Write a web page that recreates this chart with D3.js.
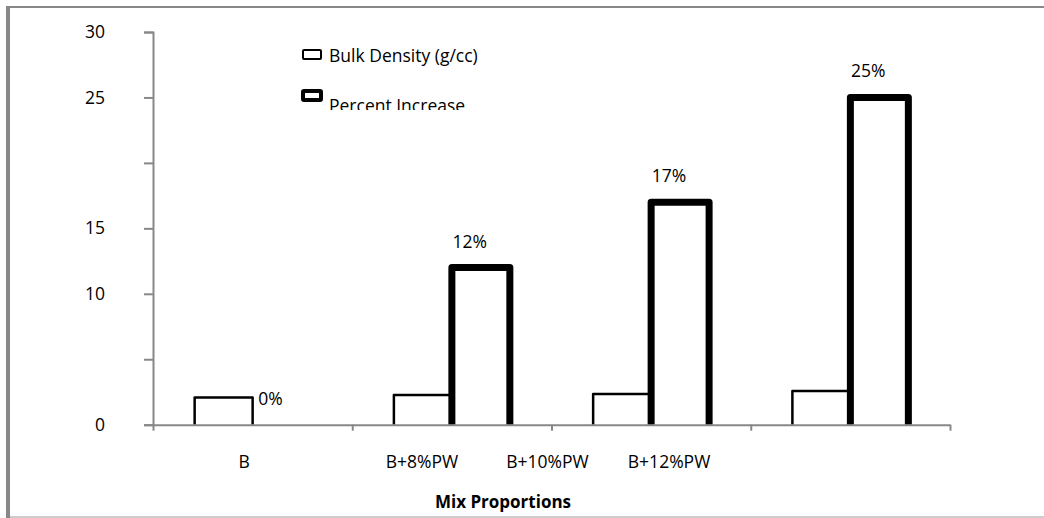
<!DOCTYPE html>
<html>
<head>
<meta charset="utf-8">
<script src="https://cdn.jsdelivr.net/npm/d3@7"></script>
<style>
  body { margin: 0; background: #fff; }
  text { font-family: "Open Sans", "Noto Sans", sans-serif; fill: #000; }
</style>
</head>
<body>
<div id="chart"></div>
<script>
// data
const categories = ["B", "B+8%PW", "B+10%PW", "B+12%PW"];
const bulkDensity = [2.07, 2.27, 2.35, 2.58];
const percentIncrease = [0, 12, 17, 25];
const percentLabels = ["0%", "12%", "17%", "25%"];
const xTickLabels = ["B", "B+8%PW", "B+10%PW", "B+12%PW"];
const yTicks = [0, 5, 10, 15, 20, 25, 30];
const yTickLabels = ["0", "", "10", "15", "", "25", "30"];
const seriesNames = ["Bulk Density (g/cc)", "Percent Increase"];

const W = 1044, H = 518;
const margin = { top: 32, right: 94, bottom: 93.3, left: 153 };
const fs = 17.5;

const svg = d3.select("#chart").append("svg")
    .attr("width", W)
    .attr("height", H);

// outer frame (partly cut off in the original)
svg.append("line").attr("x1", 8).attr("x2", 8).attr("y1", 6).attr("y2", H)
    .attr("stroke", "#888").attr("stroke-width", 4);
svg.append("line").attr("x1", 6).attr("x2", W).attr("y1", 7).attr("y2", 7)
    .attr("stroke", "#888").attr("stroke-width", 2);
svg.append("line").attr("x1", 10).attr("x2", W).attr("y1", 517).attr("y2", 517)
    .attr("stroke", "#ccc").attr("stroke-width", 2);

const x = d3.scaleBand()
    .domain(categories)
    .range([margin.left, W - margin.right])
    .paddingInner(0.418)
    .paddingOuter(0.209);

const xSub = d3.scaleBand()
    .domain(["bulk", "pct"])
    .range([0, x.bandwidth()]);

const y = d3.scaleLinear()
    .domain([0, 30])
    .range([H - margin.bottom, margin.top]);

// bars drawn as open outlines (no bottom edge), Excel style
function barPath(x0, w, v) {
    const yb = y(0), yt = y(v);
    return `M${x0},${yb}V${yt}H${x0 + w}V${yb}`;
}

const bars = svg.append("g");

bars.selectAll(".bulk")
    .data(categories)
    .join("path")
    .attr("class", "bulk")
    .attr("d", (c, i) => barPath(x(c) + xSub("bulk"), xSub.bandwidth(), bulkDensity[i]))
    .attr("fill", "#fff")
    .attr("stroke", "#000")
    .attr("stroke-width", 2.5)
    .attr("stroke-linejoin", "round");

bars.selectAll(".pct")
    .data(categories.filter((c, i) => percentIncrease[i] > 0))
    .join("path")
    .attr("class", "pct")
    .attr("d", c => barPath(x(c) + xSub("pct"), xSub.bandwidth(), percentIncrease[categories.indexOf(c)]))
    .attr("fill", "#fff")
    .attr("stroke", "#000")
    .attr("stroke-width", 7)
    .attr("stroke-linejoin", "round");

// value labels
svg.append("g").selectAll("text")
    .data(categories)
    .join("text")
    .attr("x", c => x(c) + xSub("pct") + xSub.bandwidth() / 2 - 11)
    .attr("y", (c, i) => y(percentIncrease[i]) - 20)
    .attr("text-anchor", "middle")
    .attr("font-size", fs)
    .text((c, i) => percentLabels[i]);

// y axis
const yAxis = d3.axisLeft(y)
    .tickValues(yTicks)
    .tickSize(9)
    .tickPadding(39)
    .tickFormat((d, i) => yTickLabels[i]);

const gy = svg.append("g")
    .attr("transform", `translate(${margin.left},0)`)
    .call(yAxis);
gy.select(".domain").attr("stroke", "#888").attr("stroke-width", 2);
gy.selectAll(".tick line").attr("stroke", "#888").attr("stroke-width", 2);
gy.selectAll(".tick text")
    .attr("font-size", fs)
    .attr("font-family", "'Open Sans', sans-serif")
    .attr("fill", "#000");

// x axis: line plus ticks at band boundaries
const xEdge = d3.scaleLinear()
    .domain([0, categories.length])
    .range(x.range());

const xAxis = d3.axisBottom(xEdge)
    .tickValues(d3.range(categories.length + 1))
    .tickSize(6)
    .tickSizeOuter(0)
    .tickFormat("");

const gx = svg.append("g")
    .attr("transform", `translate(0,${y(0)})`)
    .call(xAxis);
gx.select(".domain").attr("stroke", "#888").attr("stroke-width", 2);
gx.selectAll(".tick line").attr("stroke", "#888").attr("stroke-width", 2);

// category labels sit where the original put them (in category units)
const labelSlots = [0.457, 1.35, 1.98, 2.59];
svg.append("g").selectAll("text")
    .data(xTickLabels)
    .join("text")
    .attr("x", (d, i) => xEdge(labelSlots[i]))
    .attr("y", 468)
    .attr("text-anchor", "middle")
    .attr("font-size", fs)
    .text(d => d);

svg.append("text")
    .attr("x", 503)
    .attr("y", 508)
    .attr("text-anchor", "middle")
    .attr("font-size", 17)
    .attr("font-weight", "bold")
    .text("Mix Proportions");

// legend, clipped at the bottom like the original
svg.append("clipPath").attr("id", "legend-clip")
    .append("rect").attr("x", 290).attr("y", 40).attr("width", 260).attr("height", 70);

const legend = svg.append("g")
    .attr("clip-path", "url(#legend-clip)");

const legendRows = legend.selectAll("g")
    .data(seriesNames)
    .join("g")
    .attr("transform", (d, i) => `translate(303,${50 + i * 41})`);

legendRows.append("rect")
    .attr("width", 18)
    .attr("height", 9)
    .attr("fill", "#fff")
    .attr("stroke", "#000")
    .attr("stroke-width", (d, i) => i === 0 ? 2 : 4)
    .attr("rx", 1);

legendRows.append("text")
    .attr("x", 26)
    .attr("y", (d, i) => i === 0 ? 12 : 21)
    .attr("font-size", fs)
    .text(d => d);
</script>
</body>
</html>
